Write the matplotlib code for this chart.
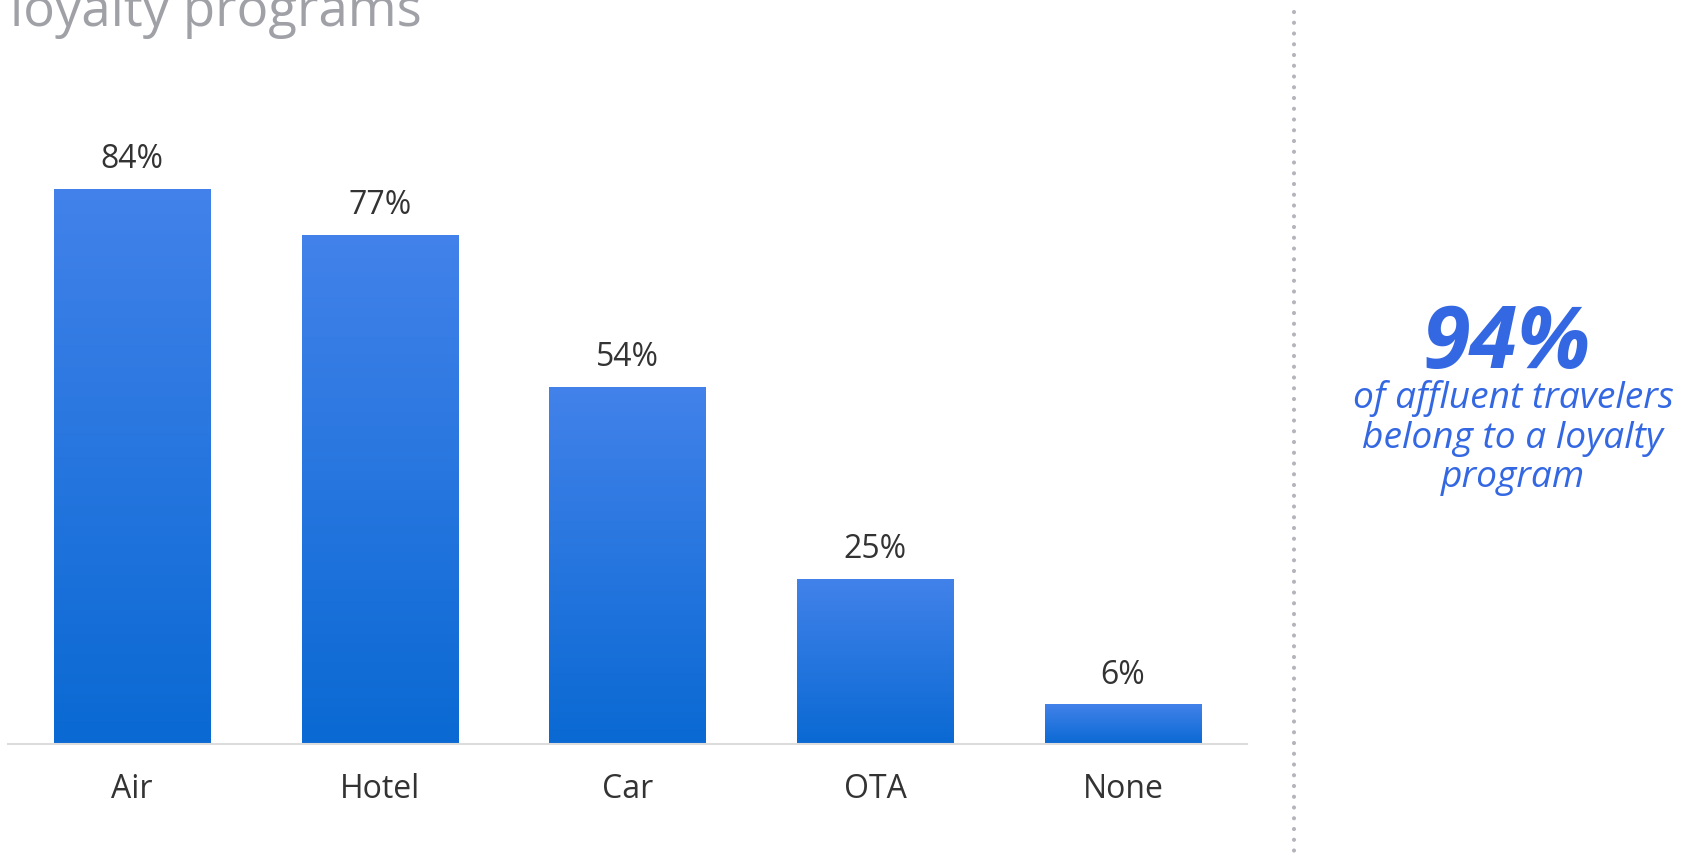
import numpy as np
import matplotlib.pyplot as plt
from matplotlib.colors import LinearSegmentedColormap
from matplotlib.lines import Line2D

plt.rcParams['font.family'] = ['Open Sans', 'DejaVu Sans']

# loyalty program membership by category
categories = ['Air', 'Hotel', 'Car', 'OTA', 'None']
shares = [84, 77, 54, 25, 6]
headline = '94%'
headline_note = 'of affluent travelers\nbelong to a loyalty\nprogram'

W, H = 1690, 858
fig = plt.figure(figsize=(W / 100, H / 100), dpi=100)
ax = fig.add_axes([8 / W, 114 / H, (1247 - 8) / W, (744 - 100) / H])

grad = LinearSegmentedColormap.from_list('bar', ['#0a69d3', '#4282ea'])
ramp = np.linspace(0, 1, 256).reshape(-1, 1)
width = 0.63

bars = ax.bar(range(len(categories)), shares, width=width, color='none')
for rect, v in zip(bars, shares):
    x0 = rect.get_x()
    im = ax.imshow(ramp, cmap=grad, origin='lower', aspect='auto',
                   extent=(x0, x0 + width, 0, v), interpolation='bicubic')
    im.set_clip_path(rect)
    ax.annotate(f'{v}%', (rect.get_x() + width / 2, v), xytext=(0, 15),
                textcoords='offset points', ha='center', va='baseline',
                fontsize=23, color='#333333')

ax.set_xlim(-0.5, len(categories) - 0.5)
ax.set_ylim(0, 644 / (555 / 84))
ax.set_xticks(range(len(categories)))
ax.set_xticklabels(categories, fontsize=23, color='#333333')
ax.tick_params(axis='x', length=0, pad=21)
ax.set_yticks([])
for side in ['left', 'right', 'top']:
    ax.spines[side].set_visible(False)
ax.spines['bottom'].set_color('#dcdcdc')
ax.spines['bottom'].set_linewidth(1.5)

# title runs off the top edge
fig.text(10 / W, 1 - 26 / H, 'loyalty programs', fontsize=38,
         color='#a0a1a6', va='baseline', ha='left')

# dotted divider
fig.add_artist(Line2D([1294 / W, 1294 / W], [1 - 12 / H, 0], transform=fig.transFigure,
                      color='#b4b4bb', linewidth=3, linestyle=(0, (0.01, 2.57)),
                      dash_capstyle='round'))

fig.text(1507 / W, 1 - 368 / H, headline, fontsize=62, fontweight='bold',
         fontstyle='italic', color='#3468e3', ha='center', va='baseline')
fig.text(1513 / W, 1 - 380 / H, headline_note, fontsize=26.7, fontstyle='italic',
         color='#3468e3', ha='center', va='top', linespacing=1.13)

fig.savefig('out.png', dpi=100)
